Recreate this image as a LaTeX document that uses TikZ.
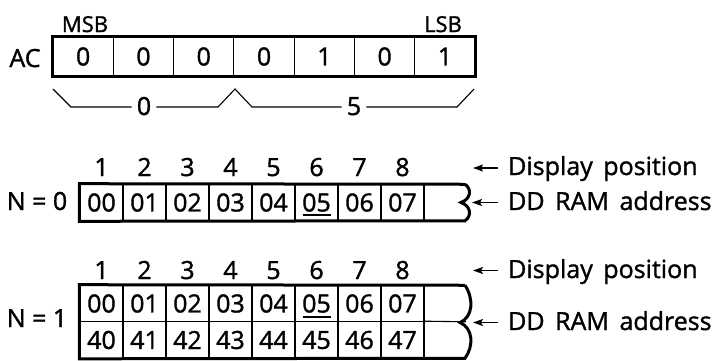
\documentclass[tikz,border=0pt]{standalone}
\usepackage{fontspec}
\setmainfont{Open Sans}[FakeBold=1.3]
\usetikzlibrary{arrows.meta,calc}
\begin{document}
\begin{tikzpicture}[x=1pt,y=-1pt,
  txt/.style={inner sep=0pt, anchor=base, font=\fontsize{25}{29}\selectfont},
  lbl/.style={inner sep=0pt, anchor=base, font=\fontsize{22}{26}\selectfont},
  side/.style={inner sep=0pt, anchor=base west, font=\fontsize{25}{29}\selectfont},
  blab/.style={inner xsep=5pt, inner ysep=0pt, anchor=base, font=\fontsize{25}{29}\selectfont},
  accell/.style={draw, line width=1.1pt, inner sep=0pt, minimum width=60.3pt, minimum height=39pt, font=\fontsize{25}{29}\selectfont},
  ddcell/.style={draw, line width=1.1pt, inner sep=0pt, minimum width=43pt, minimum height=36.5pt, font=\fontsize{25}{29}\selectfont},
  frame/.style={line width=3pt, line join=miter},
  thin/.style={line width=1.1pt},
  ptr/.style={line width=1.3pt, -{Stealth[length=10pt,width=7pt,inset=2pt]}},
  uline/.style={line width=1.2pt}]
\useasboundingbox (0,0) rectangle (717,360);

% ---------- AC register ----------
\node[lbl] (msb) at (85,32) {MSB};
\node[lbl] (lsb) at (443,32) {LSB};
\node[txt] (ac) at (25,67) {AC};
\foreach \i/\v in {1/0,2/0,3/0,4/0,5/1,6/0,7/1}{
  \node[accell] (a\i) at ({53+60.3*(\i-0.5)},56.5) {\v};
}
\draw[frame] (a1.north west) rectangle (a7.south east);

% braces under AC
\coordinate (bl0) at (53,89);
\coordinate (bl1) at (71,107);
\coordinate (bm0) at (218,107);
\coordinate (bm1) at (235,89);
\coordinate (bm2) at (252,107);
\coordinate (br0) at (457,107);
\coordinate (br1) at (474,89);
\node[blab] (hz) at (144,115) {0};
\node[blab] (hf) at (354,115) {5};
\draw[thin] (bl0) -- (bl1) -- (bl1 -| hz.west);
\draw[thin] (bm0 -| hz.east) -- (bm0) -- (bm1) -- (bm2) -- (bm2 -| hf.west);
\draw[thin] (br0 -| hf.east) -- (br0) -- (br1);

% ---------- N = 0 ----------
\node[txt] (n0) at (37,210) {N = 0};
\foreach \i/\v in {1/00,2/01,3/02,4/03,5/04,6/05,7/06,8/07}{
  \node[ddcell] (p\i) at ({80+43*(\i-0.5)},202.5) {\v};
  \node[txt] (q\i) at ({80+43*(\i-0.5)},176) {\i};
}
\coordinate (w0t) at (465,184.25);
\coordinate (w0m) at (461,202.5);
\coordinate (w0b) at (465,220.75);
\draw[frame] (w0t) -- (p1.north west) -- (p1.south west) -- (w0b)
  .. controls (472,216) and (471,206) .. (w0m)
  .. controls (471,199) and (472,189) .. (w0t);
\draw[uline] ($(p6.center)+(-14,12.5)$) -- ($(p6.center)+(14,12.5)$);

\node[side] (dp0) at (508,175) {Display\hspace{0.42em}position};
\node[side] (dd0) at (508,210) {DD\hspace{0.42em}RAM\hspace{0.42em}address};
\coordinate (t0a) at (473,168);
\coordinate (t0b) at (472,202.5);
\draw[ptr] (dp0.west |- t0a) ++(-10,0) -- (t0a);
\draw[ptr] (dd0.west |- t0b) ++(-10,0) -- (t0b);

% ---------- N = 1 ----------
\node[txt] (n1) at (37,327) {N = 1};
\foreach \i/\v/\w in {1/00/40,2/01/41,3/02/42,4/03/43,5/04/44,6/05/45,7/06/46,8/07/47}{
  \node[ddcell] (r\i) at ({80+43*(\i-0.5)},303.5) {\v};
  \node[ddcell] (s\i) at ({80+43*(\i-0.5)},340) {\w};
  \node[txt] (u\i) at ({80+43*(\i-0.5)},279) {\i};
}
\draw[thin] (s8.north east) -- (466,321.75);
\coordinate (w1t) at (465,285.25);
\coordinate (w1m) at (460,322.5);
\coordinate (w1b) at (465,358.25);
\draw[frame] (w1t) -- (r1.north west) -- (s1.south west) -- (w1b)
  .. controls (474,346) and (473,328) .. (w1m)
  .. controls (473,317) and (474,299) .. (w1t);
\draw[uline] ($(r6.center)+(-14,13.5)$) -- ($(r6.center)+(14,13.5)$);

\node[side] (dp1) at (508,278) {Display\hspace{0.42em}position};
\node[side] (dd1) at (508,330) {DD\hspace{0.42em}RAM\hspace{0.42em}address};
\coordinate (t1a) at (473,270.5);
\coordinate (t1b) at (473,322.5);
\draw[ptr] (dp1.west |- t1a) ++(-10,0) -- (t1a);
\draw[ptr] (dd1.west |- t1b) ++(-10,0) -- (t1b);
\end{tikzpicture}
\end{document}
